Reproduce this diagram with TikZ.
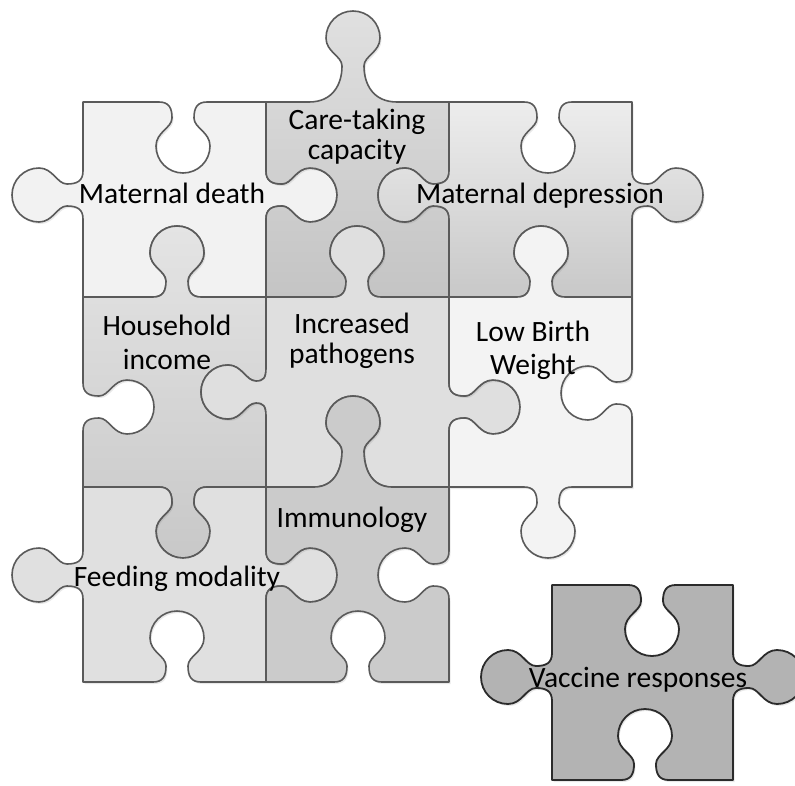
\documentclass[tikz,border=0pt]{standalone}
\usepackage{fontspec}
\setmainfont{Carlito}
\usetikzlibrary{shadows}
\definecolor{edgec}{HTML}{5A5A5A}
\definecolor{vredge}{HTML}{2B2B2B}
\newcommand{\knob}[8]{%
 -- ({#1+(#3)*(-24-(#8))},{#2+(#4)*(-24-(#8))})
 .. controls ({#1+(#3)*(-14-0.3*(#8))},{#2+(#4)*(-14-0.3*(#8))})
 and ({#1+(#3)*(-11)+(#5)*(6+0.6*(#7))},{#2+(#4)*(-11)+(#6)*(6+0.6*(#7))})
 .. ({#1+(#3)*(-11)+(#5)*(16+(#7))},{#2+(#4)*(-11)+(#6)*(16+(#7))})
 .. controls ({#1+(#3)*(-11)+(#5)*(26+(#7))},{#2+(#4)*(-11)+(#6)*(26+(#7))})
 and ({#1+(#3)*(-27)+(#5)*(30+(#7))},{#2+(#4)*(-27)+(#6)*(30+(#7))})
 .. ({#1+(#3)*(-27)+(#5)*(44+(#7))},{#2+(#4)*(-27)+(#6)*(44+(#7))})
 .. controls ({#1+(#3)*(-27)+(#5)*(59+(#7))},{#2+(#4)*(-27)+(#6)*(59+(#7))})
 and ({#1+(#3)*(-15)+(#5)*(71+(#7))},{#2+(#4)*(-15)+(#6)*(71+(#7))})
 .. ({#1+(#5)*(71+(#7))},{#2+(#6)*(71+(#7))})
 .. controls ({#1+(#3)*(15)+(#5)*(71+(#7))},{#2+(#4)*(15)+(#6)*(71+(#7))})
 and ({#1+(#3)*(27)+(#5)*(59+(#7))},{#2+(#4)*(27)+(#6)*(59+(#7))})
 .. ({#1+(#3)*(27)+(#5)*(44+(#7))},{#2+(#4)*(27)+(#6)*(44+(#7))})
 .. controls ({#1+(#3)*(27)+(#5)*(30+(#7))},{#2+(#4)*(27)+(#6)*(30+(#7))})
 and ({#1+(#3)*(11)+(#5)*(26+(#7))},{#2+(#4)*(11)+(#6)*(26+(#7))})
 .. ({#1+(#3)*(11)+(#5)*(16+(#7))},{#2+(#4)*(11)+(#6)*(16+(#7))})
 .. controls ({#1+(#3)*(11)+(#5)*(6+0.6*(#7))},{#2+(#4)*(11)+(#6)*(6+0.6*(#7))})
 and ({#1+(#3)*(14+0.3*(#8))},{#2+(#4)*(14+0.3*(#8))})
 .. ({#1+(#3)*(24+(#8))},{#2+(#4)*(24+(#8))})
}
% shared edges: argument = traversal direction (+1 / -1)
\newcommand{\kTa}[1]{\knob{183}{102}{#1}{0}{0}{1}{0}{0}}
\newcommand{\kTb}[1]{\knob{353}{102}{#1}{0}{0}{-1}{20}{20}}
\newcommand{\kTc}[1]{\knob{548}{102}{#1}{0}{0}{1}{0}{0}}
\newcommand{\kAa}[1]{\knob{177}{297}{#1}{0}{0}{-1}{0}{0}}
\newcommand{\kAb}[1]{\knob{357}{297}{#1}{0}{0}{-1}{0}{0}}
\newcommand{\kAc}[1]{\knob{541}{297}{#1}{0}{0}{-1}{0}{0}}
\newcommand{\kBa}[1]{\knob{183}{487}{#1}{0}{0}{1}{0}{0}}
\newcommand{\kBb}[1]{\knob{353}{487}{#1}{0}{0}{-1}{20}{15}}
\newcommand{\kBc}[1]{\knob{548}{487}{#1}{0}{0}{1}{0}{0}}
\newcommand{\kCa}[1]{\knob{177}{682}{#1}{0}{0}{-1}{0}{0}}
\newcommand{\kCb}[1]{\knob{358}{682}{#1}{0}{0}{-1}{0}{0}}
\newcommand{\kLa}[1]{\knob{83}{195}{0}{#1}{-1}{0}{0}{0}}
\newcommand{\kLb}[1]{\knob{83}{407}{0}{#1}{1}{0}{0}{0}}
\newcommand{\kLc}[1]{\knob{83}{575}{0}{#1}{-1}{0}{0}{0}}
\newcommand{\kMa}[1]{\knob{266}{195}{0}{#1}{1}{0}{0}{0}}
\newcommand{\kMb}[1]{\knob{266}{392}{0}{#1}{-1}{0}{-6}{0}}
\newcommand{\kMc}[1]{\knob{266}{575}{0}{#1}{1}{0}{0}{0}}
\newcommand{\kNa}[1]{\knob{449}{195}{0}{#1}{-1}{0}{0}{0}}
\newcommand{\kNb}[1]{\knob{449}{407}{0}{#1}{1}{0}{0}{0}}
\newcommand{\kNc}[1]{\knob{449}{575}{0}{#1}{-1}{0}{0}{0}}
\newcommand{\kRa}[1]{\knob{632}{195}{0}{#1}{1}{0}{0}{0}}
\newcommand{\kRb}[1]{\knob{632}{393}{0}{#1}{-1}{0}{0}{0}}
\begin{document}
\begin{tikzpicture}[x=1pt,y=-1pt,
  piece/.style={draw=edgec,line width=1.6pt,line join=round,
    drop shadow={opacity=0.18,shadow xshift=1.5pt,shadow yshift=-2pt}},
  lbl/.style={inner sep=0pt,align=center,text=black,font=\fontsize{29.5}{33}\selectfont}]
\useasboundingbox (0,0) rectangle (795,785);
% Row 1
\draw[piece,fill={rgb,255:red,242;green,242;blue,242}]
  (83,102) \kTa{1} -- (266,102) \kMa{1} -- (266,297) \kAa{-1} -- (83,297) \kLa{-1} -- cycle;
\draw[piece,top color={rgb,255:red,224;green,224;blue,224},bottom color={rgb,255:red,196;green,196;blue,196}]
  (266,102) \kTb{1} -- (449,102) \kNa{1} -- (449,297) \kAb{-1} -- (266,297) \kMa{-1} -- cycle;
\draw[piece,top color={rgb,255:red,237;green,237;blue,237},bottom color={rgb,255:red,200;green,200;blue,200}]
  (449,102) \kTc{1} -- (632,102) \kRa{1} -- (632,297) \kAc{-1} -- (449,297) \kNa{-1} -- cycle;
% Row 2
\draw[piece,top color={rgb,255:red,228;green,228;blue,228},bottom color={rgb,255:red,200;green,200;blue,200}]
  (83,297) \kAa{1} -- (266,297) \kMb{1} -- (266,487) \kBa{-1} -- (83,487) \kLb{-1} -- cycle;
\draw[piece,fill={rgb,255:red,223;green,223;blue,223}]
  (266,297) \kAb{1} -- (449,297) \kNb{1} -- (449,487) \kBb{-1} -- (266,487) \kMb{-1} -- cycle;
\draw[piece,fill={rgb,255:red,243;green,243;blue,243}]
  (449,297) \kAc{1} -- (632,297) \kRb{1} -- (632,487) \kBc{-1} -- (449,487) \kNb{-1} -- cycle;
% Row 3
\draw[piece,fill={rgb,255:red,224;green,224;blue,224}]
  (83,487) \kBa{1} -- (266,487) \kMc{1} -- (266,682) \kCa{-1} -- (83,682) \kLc{-1} -- cycle;
\draw[piece,fill={rgb,255:red,203;green,203;blue,203}]
  (266,487) \kBb{1} -- (449,487) \kNc{1} -- (449,682) \kCb{-1} -- (266,682) \kMc{-1} -- cycle;
% Separate piece
\draw[draw=vredge,line width=1.8pt,line join=round,fill={rgb,255:red,179;green,179;blue,179},
    drop shadow={opacity=0.18,shadow xshift=1.5pt,shadow yshift=-2pt}]
  (552,585) \knob{652}{585}{1}{0}{0}{1}{0}{0} -- (733,585) \knob{733}{677}{0}{1}{1}{0}{0}{0}
  -- (733,780) \knob{645}{780}{-1}{0}{0}{-1}{0}{0} -- (552,780) \knob{552}{677}{0}{-1}{-1}{0}{0}{0} -- cycle;
% Labels
\node[lbl,anchor=base] (md) at (172,203) {Maternal death};
\node[lbl,anchor=center,font=\fontsize{29.5}{30}\selectfont] (ct) at (357,137) {Care-taking\\capacity};
\node[lbl,anchor=base] (mdep) at (540,203) {Maternal depression};
\node[lbl,anchor=center,font=\fontsize{29.5}{34}\selectfont] (hi) at (167,342) {Household\\income};
\node[lbl,anchor=center,font=\fontsize{29.5}{30}\selectfont] (ip) at (352,341) {Increased\\pathogens};
\node[lbl,anchor=center,font=\fontsize{29.5}{33}\selectfont] (lbw) at (533,350) {Low Birth\\Weight};
\node[lbl,anchor=base] (fm) at (177,586) {Feeding modality};
\node[lbl,anchor=base] (im) at (352,527) {Immunology};
\node[lbl,anchor=base] (vr) at (638,687) {Vaccine responses};
\end{tikzpicture}
\end{document}
